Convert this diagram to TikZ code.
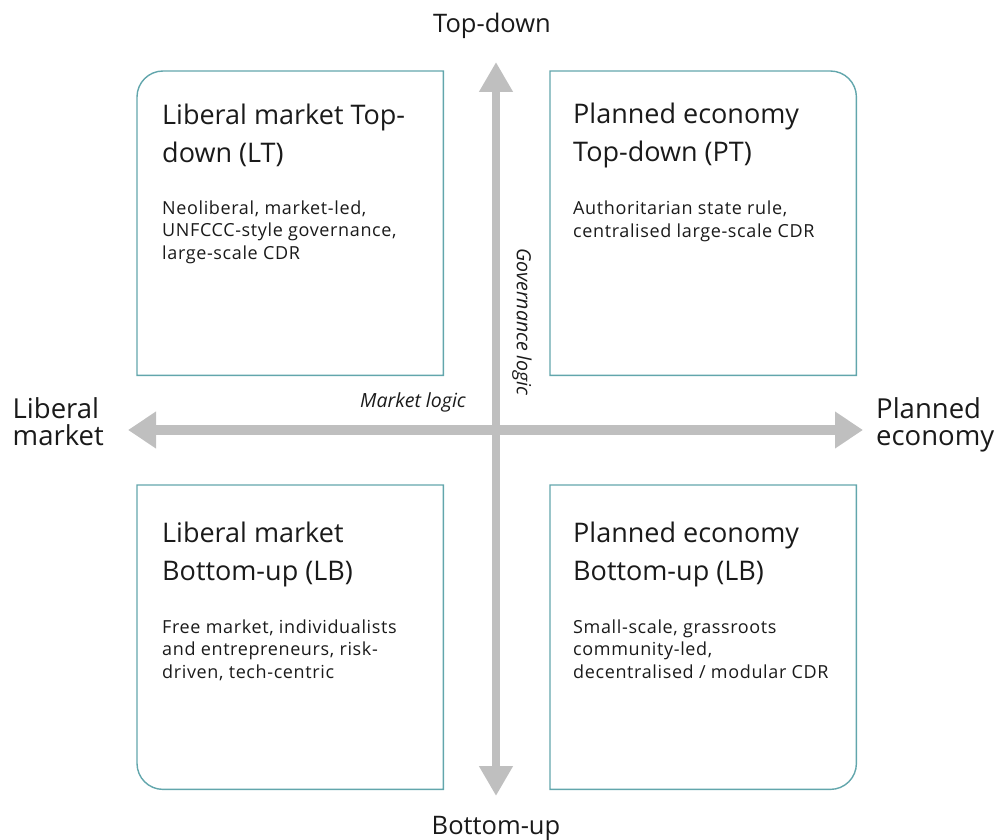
\documentclass[tikz,border=0pt]{standalone}
\usepackage{fontspec}
\setmainfont{Open Sans}
\usepackage{xcolor}
\usetikzlibrary{positioning}
\usetikzlibrary{arrows.meta}
\definecolor{quadline}{RGB}{98,166,172}
\definecolor{axisgrey}{RGB}{191,191,191}
\definecolor{inkgrey}{RGB}{26,26,26}

\begin{document}
\begin{tikzpicture}[x=1pt, y=-1pt, text=inkgrey,
    quad/.style={minimum width=306pt, minimum height=304pt, inner sep=0pt, anchor=north west},
    quadborder/.style={draw=quadline, line width=1.4pt},
    quadtitle/.style={anchor=base west, align=left, inner sep=0pt, font=\fontsize{27}{38}\selectfont},
    quadtext/.style={anchor=base west, align=left, inner sep=0pt, font=\fontsize{18}{22.5}\selectfont\addfontfeatures{LetterSpace=3.5}},
    axislabel/.style={align=left, inner sep=0pt, font=\fontsize{25.5}{27}\selectfont},
    sidelabel/.style={align=left, inner sep=0pt, font=\fontsize{27.5}{27}\selectfont},
    logiclabel/.style={inner sep=0pt, font=\fontsize{19.5}{20}\selectfont\itshape}]
  \useasboundingbox (0,0) rectangle (1005,840);

  % the four quadrants
  \node (LT) [quad] at (137,71) {};
  \node (PT) [quad] at (550,71) {};
  \node (LB) [quad] at (137,485) {};
  \node (PB) [quad] at (550,485) {};
  \draw[quadborder] (LT.west) [rounded corners=26pt] -- (LT.north west) -- (LT.north)
    [sharp corners] -- (LT.north east) -- (LT.south east) -- (LT.south west) -- cycle;
  \draw[quadborder] (PT.north) [rounded corners=26pt] -- (PT.north east) -- (PT.east)
    [sharp corners] -- (PT.south east) -- (PT.south west) -- (PT.north west) -- cycle;
  \draw[quadborder] (LB.south) [rounded corners=26pt] -- (LB.south west) -- (LB.west)
    [sharp corners] -- (LB.north west) -- (LB.north east) -- (LB.south east) -- cycle;
  \draw[quadborder] (PB.east) [rounded corners=26pt] -- (PB.south east) -- (PB.south)
    [sharp corners] -- (PB.south west) -- (PB.north west) -- (PB.north east) -- cycle;

  % base = baseline of the last line
  \node (LTtitle) [quadtitle] at (162,163) {Liberal market Top-\\down (LT)};
  \node (LTtext) [quadtext] at (162,259) {Neoliberal, market-led,\\UNFCCC-style governance,\\large-scale CDR};
  \node (PTtitle) [quadtitle] at (573,162) {Planned economy\\Top-down (PT)};
  \node (PTtext) [quadtext] at (573,237) {Authoritarian state rule,\\centralised large-scale CDR};
  \node (LBtitle) [quadtitle] at (162,580) {Liberal market\\Bottom-up (LB)};
  \node (LBtext) [quadtext] at (162,678) {Free market, individualists\\and entrepreneurs, risk-\\driven, tech-centric};
  \node (PBtitle) [quadtitle] at (573,580) {Planned economy\\Bottom-up (LB)};
  \node (PBtext) [quadtext] at (573,678) {Small-scale, grassroots\\community-led,\\decentralised / modular CDR};

  % axes
  \coordinate (north) at (496,62);
  \coordinate (south) at (496,796);
  \coordinate (west) at (128,430);
  \coordinate (east) at (863,430);
  \draw[axisgrey, line width=8pt, {Triangle[width=32pt,length=30pt]}-{Triangle[width=32pt,length=30pt]}] (north) -- (south);
  \draw[axisgrey, line width=10pt, {Triangle[width=35pt,length=28pt]}-{Triangle[width=35pt,length=28pt]}] (west) -- (east);

  \node (topdown) [axislabel, above=23pt of north, xshift=-4pt] {Top-down};
  \node (bottomup) [axislabel, below=20pt of south] {Bottom-up};
  \node (liberal) [sidelabel, left=24pt of west, yshift=8pt] {Liberal\\market};
  \node (planned) [sidelabel, right=13pt of east, yshift=5pt] {Planned\\economy};
  \node (marketlogic) [logiclabel] at (413,402) {Market logic};
  \node (govlogic) [logiclabel, rotate=-90] at (522,322) {Governance logic};
\end{tikzpicture}
\end{document}
